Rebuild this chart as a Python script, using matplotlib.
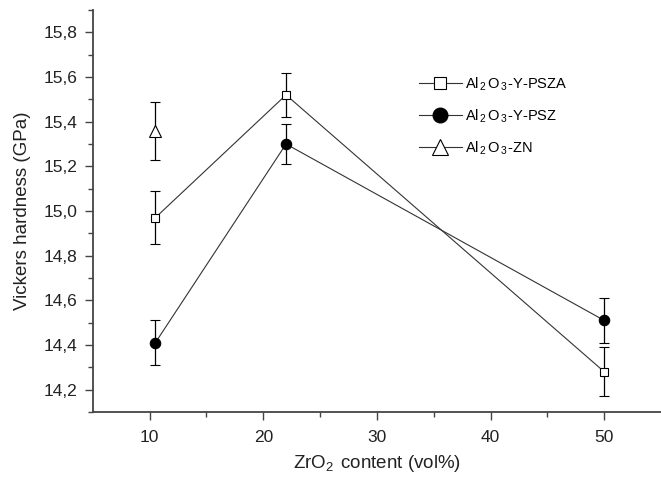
import matplotlib
matplotlib.use("Agg")
import matplotlib.pyplot as plt
from matplotlib.lines import Line2D

plt.rcParams['font.family'] = ['Liberation Sans', 'DejaVu Sans']
plt.rcParams['mathtext.fontset'] = 'custom'
plt.rcParams['mathtext.rm'] = 'Liberation Sans'
plt.rcParams['mathtext.it'] = 'Liberation Sans'

# ZrO2 content (vol%)
x_psza = [10.5, 22, 50]
hv_psza = [14.97, 15.52, 14.28]
err_psza = [0.12, 0.10, 0.11]

x_psz = [10.5, 22, 50]
hv_psz = [14.41, 15.30, 14.51]
err_psz = [0.10, 0.09, 0.10]

x_zn = [10.5]
hv_zn = [15.36]
err_zn = [0.13]

labels = [r'Al$_{\,2\,}$O$_{\,3\,}$-Y-PSZA', r'Al$_{\,2\,}$O$_{\,3\,}$-Y-PSZ', r'Al$_{\,2\,}$O$_{\,3\,}$-ZN']

fig = plt.figure(figsize=(6.61, 4.79), dpi=100)
ax = fig.add_axes([0.1405, 0.140, 0.8595, 0.839])

line_kw = dict(color='#333333', lw=0.8, ecolor='black', elinewidth=0.9,
               capsize=3.3, capthick=0.9, mec='black', mew=0.8, zorder=3)
ax.errorbar(x_psza, hv_psza, yerr=err_psza, marker='s', ms=6, mfc='white', **line_kw)
ax.errorbar(x_psz, hv_psz, yerr=err_psz, marker='o', ms=7.5, mfc='black', **line_kw)
ax.errorbar(x_zn, hv_zn, yerr=err_zn, marker='^', ms=8, mfc='white', **line_kw)

ax.set_xlim(5, 55)
ax.set_ylim(14.1, 15.9)
ax.set_xticks([10, 20, 30, 40, 50])
ax.set_xticks([15, 25, 35, 45], minor=True)
yt = [14.2, 14.4, 14.6, 14.8, 15.0, 15.2, 15.4, 15.6, 15.8]
ax.set_yticks(yt)
ax.set_yticklabels([f"{v:.1f}".replace('.', ',') for v in yt])
ax.set_yticks([14.1, 14.3, 14.5, 14.7, 14.9, 15.1, 15.3, 15.5, 15.7, 15.9], minor=True)

for s in ['top', 'right']:
    ax.spines[s].set_visible(False)
for s in ['left', 'bottom']:
    ax.spines[s].set_color('#444444')
    ax.spines[s].set_linewidth(1.3)
ax.tick_params(which='major', direction='out', length=6, width=1, color='#444444',
               labelsize=12.5, colors='#222222')
ax.tick_params(which='minor', direction='out', length=3.5, width=1, color='#444444')
ax.tick_params(axis='x', pad=7)
ax.tick_params(axis='y', pad=5)

ax.set_xlabel(r'ZrO$_{2\,}$ content (vol%)', fontsize=13.5, color='#222222', labelpad=6)
ax.set_ylabel('Vickers hardness (GPa)', fontsize=13.5, color='#222222', labelpad=9)

handles = [
    Line2D([], [], color='#333333', lw=0.8, marker='s', ms=8.5, mfc='white', mec='black', mew=0.8),
    Line2D([], [], color='#333333', lw=0.8, marker='o', ms=10.5, mfc='black', mec='black'),
    Line2D([], [], color='#333333', lw=0.8, marker='^', ms=11.5, mfc='white', mec='black', mew=0.8),
]
ax.legend(handles, labels, loc='center left', bbox_to_anchor=(0.574, 0.736),
          frameon=False, fontsize=10.5, handlelength=2.95, handletextpad=0.2,
          labelspacing=1.0, borderaxespad=0, borderpad=0)

fig.savefig('out.png', dpi=100)
